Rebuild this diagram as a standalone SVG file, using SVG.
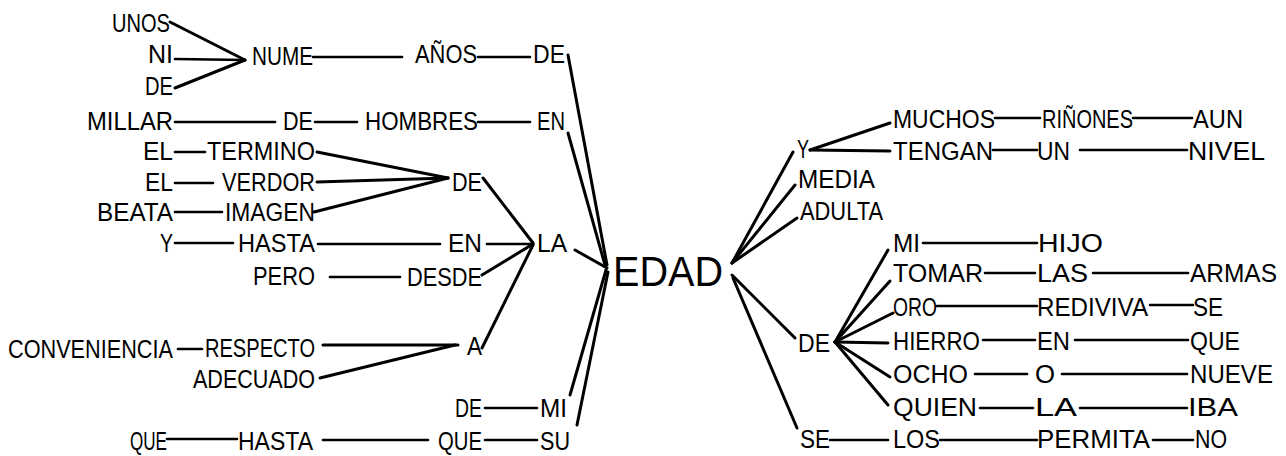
<svg xmlns="http://www.w3.org/2000/svg" width="1286" height="456" viewBox="0 0 1286 456">
<style>
.t{font-family:"Liberation Sans",Arial,sans-serif;font-size:25px;fill:#000}
.big{font-size:42px}
.c line{stroke:#000;stroke-width:2.6;stroke-linecap:round}
.c .d{stroke-width:3}
</style>
<rect width="1286" height="456" fill="#fff"/>
<g class="c" id="connectors">
<line class="d" x1="170" y1="22" x2="245" y2="60"/>
<line x1="175" y1="59" x2="245" y2="60"/>
<line class="d" x1="175" y1="88" x2="245" y2="60"/>
<line x1="313" y1="57" x2="402" y2="57"/>
<line x1="478" y1="57" x2="530" y2="57"/>
<line class="d" x1="568" y1="55" x2="607" y2="265"/>
<line x1="175" y1="122" x2="275" y2="122"/>
<line x1="315" y1="122" x2="357" y2="122"/>
<line x1="478" y1="122" x2="530" y2="122"/>
<line class="d" x1="568" y1="133" x2="605" y2="265"/>
<line x1="175" y1="152" x2="205" y2="152"/>
<line x1="175" y1="183" x2="213" y2="183"/>
<line x1="175" y1="212" x2="222" y2="212"/>
<line x1="175" y1="243" x2="233" y2="243"/>
<line class="d" x1="317" y1="152" x2="448" y2="178"/>
<line class="d" x1="317" y1="182" x2="448" y2="178"/>
<line class="d" x1="314" y1="212" x2="448" y2="178"/>
<line class="d" x1="483" y1="178" x2="533" y2="243"/>
<line x1="318" y1="244" x2="440" y2="244"/>
<line x1="487" y1="244" x2="533" y2="244"/>
<line class="d" x1="482" y1="275" x2="533" y2="244"/>
<line x1="330" y1="277" x2="400" y2="277"/>
<line class="d" x1="575" y1="250" x2="607" y2="268"/>
<line class="d" x1="482" y1="348" x2="533" y2="245"/>
<line x1="178" y1="349" x2="202" y2="349"/>
<line class="d" x1="323" y1="345" x2="458" y2="345"/>
<line class="d" x1="320" y1="378" x2="455" y2="345"/>
<line x1="485" y1="408" x2="537" y2="408"/>
<line class="d" x1="570" y1="395" x2="606" y2="270"/>
<line x1="167" y1="439" x2="237" y2="439"/>
<line x1="323" y1="440" x2="428" y2="440"/>
<line x1="485" y1="440" x2="537" y2="440"/>
<line class="d" x1="577" y1="425" x2="608" y2="272"/>
<line class="d" x1="732" y1="263" x2="793" y2="152"/>
<line class="d" x1="732" y1="263" x2="795" y2="185"/>
<line class="d" x1="732" y1="263" x2="797" y2="218"/>
<line class="d" x1="810" y1="150" x2="890" y2="123"/>
<line class="d" x1="810" y1="150" x2="890" y2="151"/>
<line x1="995" y1="118" x2="1040" y2="118"/>
<line x1="1133" y1="118" x2="1192" y2="118"/>
<line x1="993" y1="150" x2="1037" y2="150"/>
<line x1="1080" y1="150" x2="1187" y2="150"/>
<line class="d" x1="732" y1="275" x2="795" y2="338"/>
<line class="d" x1="733" y1="278" x2="797" y2="428"/>
<line class="d" x1="835" y1="342" x2="888" y2="250"/>
<line class="d" x1="835" y1="342" x2="890" y2="281"/>
<line class="d" x1="835" y1="342" x2="893" y2="313"/>
<line class="d" x1="835" y1="342" x2="888" y2="343"/>
<line class="d" x1="835" y1="342" x2="890" y2="377"/>
<line class="d" x1="835" y1="342" x2="888" y2="405"/>
<line x1="923" y1="243" x2="1037" y2="243"/>
<line x1="985" y1="273" x2="1035" y2="273"/>
<line x1="1093" y1="273" x2="1188" y2="273"/>
<line x1="937" y1="306" x2="1037" y2="306"/>
<line x1="1150" y1="305" x2="1193" y2="305"/>
<line x1="983" y1="340" x2="1035" y2="340"/>
<line x1="1075" y1="340" x2="1188" y2="340"/>
<line x1="975" y1="374" x2="1027" y2="374"/>
<line x1="1062" y1="374" x2="1187" y2="374"/>
<line x1="980" y1="408" x2="1033" y2="408"/>
<line x1="1080" y1="408" x2="1187" y2="408"/>
<line x1="830" y1="440" x2="888" y2="440"/>
<line x1="940" y1="440" x2="1037" y2="440"/>
<line x1="1153" y1="440" x2="1193" y2="440"/>
</g>
<g id="n-unos"><text class="t" x="112" y="32" textLength="58" lengthAdjust="spacingAndGlyphs">UNOS</text></g>
<g id="n-ni"><text class="t" x="148" y="63" textLength="25" lengthAdjust="spacingAndGlyphs">NI</text></g>
<g id="n-de1"><text class="t" x="145" y="95" textLength="28" lengthAdjust="spacingAndGlyphs">DE</text></g>
<g id="n-nume"><text class="t" x="252" y="65" textLength="61" lengthAdjust="spacingAndGlyphs">NUME</text></g>
<g id="n-anos"><text class="t" x="415" y="63" textLength="62" lengthAdjust="spacingAndGlyphs">AÑOS</text></g>
<g id="n-de2"><text class="t" x="533" y="63" textLength="32" lengthAdjust="spacingAndGlyphs">DE</text></g>
<g id="n-millar"><text class="t" x="87" y="130" textLength="86" lengthAdjust="spacingAndGlyphs">MILLAR</text></g>
<g id="n-de3"><text class="t" x="283" y="130" textLength="30" lengthAdjust="spacingAndGlyphs">DE</text></g>
<g id="n-hombres"><text class="t" x="365" y="130" textLength="113" lengthAdjust="spacingAndGlyphs">HOMBRES</text></g>
<g id="n-en1"><text class="t" x="537" y="130" textLength="28" lengthAdjust="spacingAndGlyphs">EN</text></g>
<g id="n-el1"><text class="t" x="143" y="160" textLength="30" lengthAdjust="spacingAndGlyphs">EL</text></g>
<g id="n-termino"><text class="t" x="207" y="160" textLength="108" lengthAdjust="spacingAndGlyphs">TERMINO</text></g>
<g id="n-el2"><text class="t" x="145" y="191" textLength="28" lengthAdjust="spacingAndGlyphs">EL</text></g>
<g id="n-verdor"><text class="t" x="222" y="191" textLength="93" lengthAdjust="spacingAndGlyphs">VERDOR</text></g>
<g id="n-beata"><text class="t" x="97" y="221" textLength="76" lengthAdjust="spacingAndGlyphs">BEATA</text></g>
<g id="n-imagen"><text class="t" x="225" y="221" textLength="90" lengthAdjust="spacingAndGlyphs">IMAGEN</text></g>
<g id="n-de4"><text class="t" x="452" y="191" textLength="30" lengthAdjust="spacingAndGlyphs">DE</text></g>
<g id="n-y1"><text class="t" x="160" y="252" textLength="13" lengthAdjust="spacingAndGlyphs">Y</text></g>
<g id="n-hasta1"><text class="t" x="238" y="252" textLength="77" lengthAdjust="spacingAndGlyphs">HASTA</text></g>
<g id="n-en2"><text class="t" x="448" y="252" textLength="34" lengthAdjust="spacingAndGlyphs">EN</text></g>
<g id="n-la1"><text class="t" x="537" y="252" textLength="30" lengthAdjust="spacingAndGlyphs">LA</text></g>
<g id="n-pero"><text class="t" x="253" y="285" textLength="62" lengthAdjust="spacingAndGlyphs">PERO</text></g>
<g id="n-desde"><text class="t" x="407" y="286" textLength="75" lengthAdjust="spacingAndGlyphs">DESDE</text></g>
<g id="n-conveniencia"><text class="t" x="8" y="358" textLength="165" lengthAdjust="spacingAndGlyphs">CONVENIENCIA</text></g>
<g id="n-respecto"><text class="t" x="205" y="357" textLength="110" lengthAdjust="spacingAndGlyphs">RESPECTO</text></g>
<g id="n-a"><text class="t" x="467" y="355" textLength="15" lengthAdjust="spacingAndGlyphs">A</text></g>
<g id="n-adecuado"><text class="t" x="193" y="388" textLength="122" lengthAdjust="spacingAndGlyphs">ADECUADO</text></g>
<g id="n-de5"><text class="t" x="455" y="417" textLength="27" lengthAdjust="spacingAndGlyphs">DE</text></g>
<g id="n-mi1"><text class="t" x="540" y="417" textLength="27" lengthAdjust="spacingAndGlyphs">MI</text></g>
<g id="n-que1"><text class="t" x="130" y="450" textLength="37" lengthAdjust="spacingAndGlyphs">QUE</text></g>
<g id="n-hasta2"><text class="t" x="238" y="450" textLength="75" lengthAdjust="spacingAndGlyphs">HASTA</text></g>
<g id="n-que2"><text class="t" x="438" y="450" textLength="44" lengthAdjust="spacingAndGlyphs">QUE</text></g>
<g id="n-su"><text class="t" x="540" y="450" textLength="30" lengthAdjust="spacingAndGlyphs">SU</text></g>
<g id="n-edad"><text class="t big" x="613" y="286" textLength="110" lengthAdjust="spacingAndGlyphs">EDAD</text></g>
<g id="n-y2"><text class="t" x="797" y="158" textLength="12" lengthAdjust="spacingAndGlyphs">Y</text></g>
<g id="n-media"><text class="t" x="798" y="188" textLength="77" lengthAdjust="spacingAndGlyphs">MEDIA</text></g>
<g id="n-adulta"><text class="t" x="800" y="220" textLength="83" lengthAdjust="spacingAndGlyphs">ADULTA</text></g>
<g id="n-muchos"><text class="t" x="893" y="128" textLength="102" lengthAdjust="spacingAndGlyphs">MUCHOS</text></g>
<g id="n-rinones"><text class="t" x="1042" y="128" textLength="91" lengthAdjust="spacingAndGlyphs">RIÑONES</text></g>
<g id="n-aun"><text class="t" x="1193" y="128" textLength="50" lengthAdjust="spacingAndGlyphs">AUN</text></g>
<g id="n-tengan"><text class="t" x="893" y="160" textLength="100" lengthAdjust="spacingAndGlyphs">TENGAN</text></g>
<g id="n-un"><text class="t" x="1037" y="160" textLength="33" lengthAdjust="spacingAndGlyphs">UN</text></g>
<g id="n-nivel"><text class="t" x="1188" y="160" textLength="77" lengthAdjust="spacingAndGlyphs">NIVEL</text></g>
<g id="n-mi2"><text class="t" x="893" y="252" textLength="27" lengthAdjust="spacingAndGlyphs">MI</text></g>
<g id="n-hijo"><text class="t" x="1038" y="252" textLength="65" lengthAdjust="spacingAndGlyphs">HIJO</text></g>
<g id="n-tomar"><text class="t" x="893" y="282" textLength="90" lengthAdjust="spacingAndGlyphs">TOMAR</text></g>
<g id="n-las"><text class="t" x="1037" y="282" textLength="51" lengthAdjust="spacingAndGlyphs">LAS</text></g>
<g id="n-armas"><text class="t" x="1190" y="282" textLength="87" lengthAdjust="spacingAndGlyphs">ARMAS</text></g>
<g id="n-oro"><text class="t" x="893" y="316" textLength="44" lengthAdjust="spacingAndGlyphs">ORO</text></g>
<g id="n-rediviva"><text class="t" x="1037" y="316" textLength="111" lengthAdjust="spacingAndGlyphs">REDIVIVA</text></g>
<g id="n-se1"><text class="t" x="1193" y="316" textLength="30" lengthAdjust="spacingAndGlyphs">SE</text></g>
<g id="n-de6"><text class="t" x="798" y="352" textLength="32" lengthAdjust="spacingAndGlyphs">DE</text></g>
<g id="n-hierro"><text class="t" x="893" y="350" textLength="87" lengthAdjust="spacingAndGlyphs">HIERRO</text></g>
<g id="n-en3"><text class="t" x="1037" y="350" textLength="33" lengthAdjust="spacingAndGlyphs">EN</text></g>
<g id="n-que3"><text class="t" x="1190" y="350" textLength="50" lengthAdjust="spacingAndGlyphs">QUE</text></g>
<g id="n-ocho"><text class="t" x="893" y="383" textLength="75" lengthAdjust="spacingAndGlyphs">OCHO</text></g>
<g id="n-o"><text class="t" x="1035" y="383" textLength="20" lengthAdjust="spacingAndGlyphs">O</text></g>
<g id="n-nueve"><text class="t" x="1190" y="383" textLength="83" lengthAdjust="spacingAndGlyphs">NUEVE</text></g>
<g id="n-quien"><text class="t" x="893" y="416" textLength="84" lengthAdjust="spacingAndGlyphs">QUIEN</text></g>
<g id="n-la2"><text class="t" x="1035" y="416" textLength="42" lengthAdjust="spacingAndGlyphs">LA</text></g>
<g id="n-iba"><text class="t" x="1188" y="416" textLength="50" lengthAdjust="spacingAndGlyphs">IBA</text></g>
<g id="n-se2"><text class="t" x="800" y="448" textLength="30" lengthAdjust="spacingAndGlyphs">SE</text></g>
<g id="n-los"><text class="t" x="893" y="448" textLength="47" lengthAdjust="spacingAndGlyphs">LOS</text></g>
<g id="n-permita"><text class="t" x="1037" y="448" textLength="113" lengthAdjust="spacingAndGlyphs">PERMITA</text></g>
<g id="n-no"><text class="t" x="1195" y="448" textLength="32" lengthAdjust="spacingAndGlyphs">NO</text></g>
</svg>
